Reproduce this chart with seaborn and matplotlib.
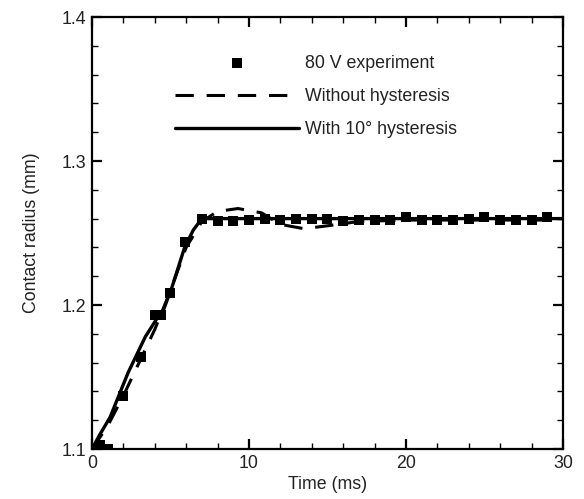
import numpy as np
import pandas as pd
import matplotlib
matplotlib.use("Agg")
import matplotlib.pyplot as plt
import seaborn as sns

# Experiment (80 V)
exp_t = [0.5, 1.0, 2.0, 3.1, 4.0, 4.4, 5.0, 5.95, 7.0, 8.0, 9.0, 10.0, 11.0, 12.0, 13.0, 14.0,
         15.0, 16.0, 17.0, 18.0, 19.0, 20.0, 21.0, 22.0, 23.0, 24.0, 25.0, 26.0, 27.0,
         28.0, 29.0]
exp_r = [1.103, 1.100, 1.137, 1.164, 1.193, 1.193, 1.208, 1.244, 1.260, 1.258, 1.258, 1.259,
         1.260, 1.259, 1.260, 1.260, 1.260, 1.258, 1.259, 1.259, 1.259, 1.261, 1.259,
         1.259, 1.259, 1.260, 1.261, 1.259, 1.259, 1.259, 1.261]

# Without hysteresis (dashed)
nohys_t = [0.0, 1.0, 2.0, 3.0, 4.0, 5.0, 6.0, 7.0, 8.0, 9.3, 10.8, 12.0, 13.5, 15.0, 17.0,
           20.0, 25.0, 30.0]
nohys_r = [1.100, 1.116, 1.137, 1.160, 1.183, 1.210, 1.240, 1.258, 1.265, 1.267, 1.264,
           1.256, 1.253, 1.255, 1.258, 1.259, 1.259, 1.259]

# With 10 deg hysteresis (solid)
hys_t = [0.0, 0.5, 1.15, 2.3, 3.4, 4.1, 4.5, 5.1, 5.9, 6.45, 7.0, 10.0, 20.0, 30.0]
hys_r = [1.100, 1.110, 1.122, 1.153, 1.178, 1.190, 1.195, 1.2125, 1.240, 1.252, 1.260,
         1.260, 1.260, 1.260]

sns.set_theme(style="ticks")
plt.rcParams['font.family'] = ['Liberation Sans', 'DejaVu Sans']
plt.rcParams['text.color'] = '#222222'
plt.rcParams['axes.labelcolor'] = '#222222'
plt.rcParams['xtick.color'] = '#000000'
plt.rcParams['ytick.color'] = '#000000'
plt.rcParams['xtick.labelcolor'] = '#222222'
plt.rcParams['ytick.labelcolor'] = '#222222'

FS = 12.8

fig = plt.figure(figsize=(5.84, 4.99), dpi=100)
ax = fig.add_axes([0.1575, 0.1002, 0.8065, 0.8657])

df_exp = pd.DataFrame({"t": exp_t, "r": exp_r})
df_nohys = pd.DataFrame({"t": nohys_t, "r": nohys_r})
df_hys = pd.DataFrame({"t": hys_t, "r": hys_r})

sns.scatterplot(data=df_exp, x="t", y="r", marker="s", s=48, color="black",
                edgecolor="black", linewidth=0, ax=ax, label="80 V experiment", zorder=3)
sns.lineplot(data=df_nohys, x="t", y="r", color="black", lw=2.2, ax=ax,
             label="Without hysteresis", dashes=False, zorder=4)
ax.lines[-1].set_dashes([6.0, 4.2])
sns.lineplot(data=df_hys, x="t", y="r", color="black", lw=2.4, ax=ax,
             label="With 10\u00b0 hysteresis", zorder=4)

ax.set_xlim(0, 30)
ax.set_ylim(1.1, 1.4)
ax.set_xticks([0, 10, 20, 30])
ax.set_xticklabels(["0", "10", "20", "30"])
ax.set_yticks([1.1, 1.2, 1.3, 1.4])
ax.set_yticklabels(["1.1", "1.2", "1.3", "1.4"])
ax.set_xticks(np.arange(0, 30.01, 2), minor=True)
ax.set_yticks(np.arange(1.1, 1.4001, 0.02), minor=True)
ax.tick_params(which="both", direction="in", top=True, right=True, labelsize=FS)
ax.tick_params(which="major", length=7, width=1.6, pad=4)
ax.tick_params(which="minor", length=4, width=1.0)
for s in ax.spines.values():
    s.set_linewidth(1.6)
    s.set_color("black")

ax.set_xlabel("Time (ms)", fontsize=FS, labelpad=3)
ax.set_ylabel("Contact radius (mm)", fontsize=FS, labelpad=16)

leg = ax.legend(loc="upper left", bbox_to_anchor=(0.176, 0.912), frameon=False,
                handlelength=7.0, handletextpad=0.33, labelspacing=0.9,
                fontsize=FS, borderaxespad=0, borderpad=0, markerscale=1.0)

fig.savefig("out.png", dpi=100)
